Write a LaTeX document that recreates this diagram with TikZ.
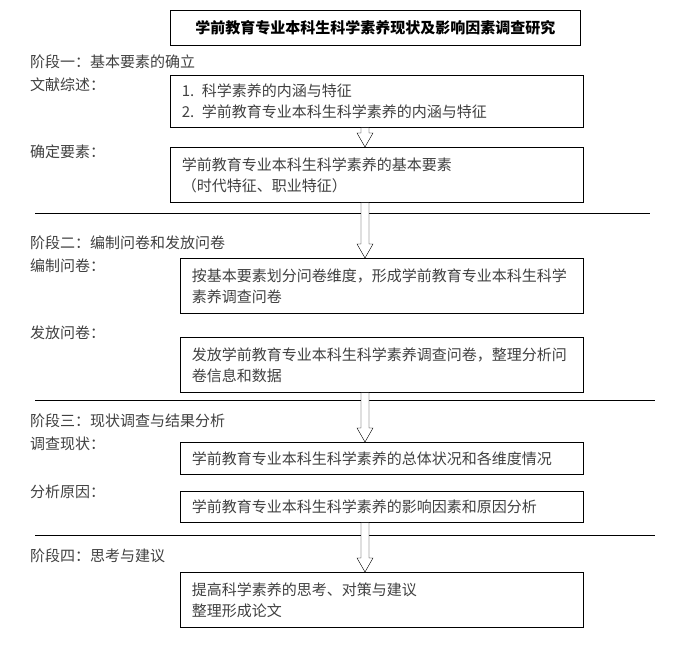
\documentclass[tikz,border=0pt]{standalone}
\usepackage{fontspec}
\setmainfont{Noto Sans CJK SC}
\usetikzlibrary{calc}
\tikzset{
  stepbox/.style={draw, thick, anchor=north west, align=left, inner xsep=10pt,
    text=black!75, font=\fontsize{15}{21}\selectfont},
  steplabel/.style={anchor=west, inner sep=0pt, text=black!75, font=\fontsize{15}{16}\selectfont},
  sepline/.style={draw, thin},
}
\newcommand{\hollowarrow}[2]{%
  \draw[fill=white] ($(#1.south-|ax)+(-4,0)$) -- ($(#2.north-|ax)+(-4,-14)$)
    -- ($(#2.north-|ax)+(-8,-14)$) -- (#2.north-|ax) -- ($(#2.north-|ax)+(8,-14)$)
    -- ($(#2.north-|ax)+(4,-14)$) -- ($(#1.south-|ax)+(4,0)$);}
\begin{document}
\begin{tikzpicture}[x=1pt,y=-1pt]
\useasboundingbox (0,0) rectangle (675,645);
\coordinate (ax) at (365,0);

% title
\node[draw, thick, minimum width=410pt, minimum height=35pt, anchor=north west,
  font=\bfseries\fontsize{15}{16}\selectfont] (title) at (170,10)
  {学前教育专业本科生科学素养现状及影响因素调查研究};

% stage 1
\node[steplabel] (s1) at (30,62) {阶段一：基本要素的确立};
\node[steplabel] (l1) at (30,85) {文献综述：};
\node[stepbox, minimum width=413pt, minimum height=52pt, text width=390pt] (b1) at (170,75)
  {1. 科学素养的内涵与特征\\2. 学前教育专业本科生科学素养的内涵与特征};
\node[steplabel] (l2) at (30,152) {确定要素：};
\node[stepbox, minimum width=413pt, minimum height=55pt, text width=390pt] (b2) at (170,147)
  {学前教育专业本科生科学素养的基本要素\\（时代特征、职业特征）};
\draw[sepline] (35,213) coordinate (h1a) -- (650,213) coordinate (h1b);

% stage 2
\node[steplabel] (s2) at (30,243) {阶段二：编制问卷和发放问卷};
\node[steplabel] (l3) at (30,266) {编制问卷：};
\node[stepbox, minimum width=403pt, minimum height=55pt, text width=380pt] (b3) at (180,258)
  {按基本要素划分问卷维度，形成学前教育专业本科生科学\\素养调查问卷};
\node[steplabel] (l4) at (30,333) {发放问卷：};
\node[stepbox, minimum width=403pt, minimum height=55pt, text width=380pt] (b4) at (180,337)
  {发放学前教育专业本科生科学素养调查问卷，整理分析问\\卷信息和数据};
\draw[sepline] (35,400) coordinate (h2a) -- (655,400) coordinate (h2b);

% stage 3
\node[steplabel] (s3) at (30,421) {阶段三：现状调查与结果分析};
\node[steplabel] (l5) at (30,444) {调查现状：};
\node[stepbox, minimum width=403pt, minimum height=32pt, text width=380pt] (b5) at (180,442)
  {学前教育专业本科生科学素养的总体状况和各维度情况};
\node[steplabel] (l6) at (30,492) {分析原因：};
\node[stepbox, minimum width=403pt, minimum height=31pt, text width=380pt] (b6) at (180,491)
  {学前教育专业本科生科学素养的影响因素和原因分析};
\draw[sepline] (35,535) coordinate (h3a) -- (655,535) coordinate (h3b);

% stage 4
\node[steplabel] (s4) at (30,556) {阶段四：思考与建议};
\node[stepbox, minimum width=403pt, minimum height=55pt, text width=380pt] (b7) at (180,572)
  {提高科学素养的思考、对策与建议\\整理形成论文};

\hollowarrow{b1}{b2}
\hollowarrow{b2}{b3}
\hollowarrow{b4}{b5}
\hollowarrow{b6}{b7}
\end{tikzpicture}
\end{document}
